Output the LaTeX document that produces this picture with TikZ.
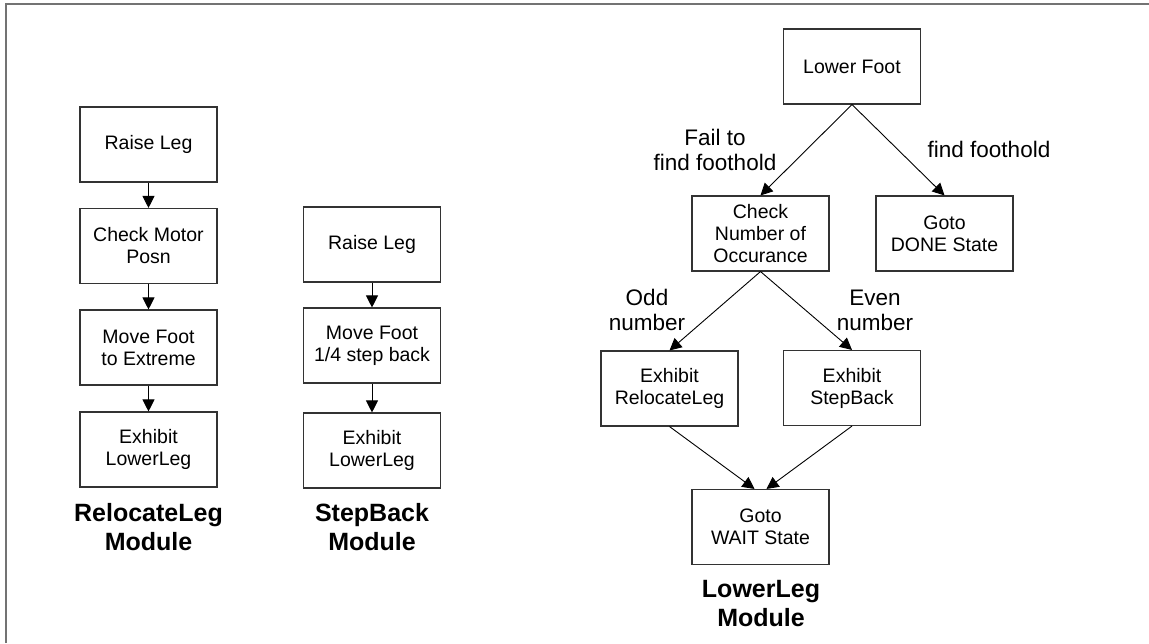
\documentclass[tikz,border=0pt]{standalone}
\usepackage{fontspec}
\setmainfont{Liberation Sans}
\usetikzlibrary{arrows.meta,calc}

\tikzset{
  stepbox/.style={draw=black!80, line width=1.1pt, rectangle, minimum width=137pt,
    minimum height=75pt, align=center, inner sep=2pt,
    font=\fontsize{19.5}{22}\selectfont},
  flow/.style={line width=0.9pt, -{Triangle[width=12pt,length=12pt]}},
  cond/.style={align=center, font=\fontsize{22.5}{25}\selectfont},
  title/.style={align=center, font=\fontsize{25}{29}\selectfont\bfseries},
  frame/.style={draw=black!55, line width=2pt}
}

\begin{document}
\begin{tikzpicture}[x=1pt, y=-1pt]
  \useasboundingbox (0,0) rectangle (1149,643);
  \fill[white] (0,0) rectangle (1149,643);

  % outer frame (left and top edges)
  \coordinate (fa) at (6,643);
  \coordinate (fb) at (6,4);
  \coordinate (fc) at (1149,4);
  \draw[frame] (fa) -- (fb) -- (fc);

  % RelocateLeg module
  \node[stepbox] (r1) at (148.5,144.5) {Raise Leg};
  \node[stepbox] (r2) at (148.5,246) {Check Motor\\Posn};
  \node[stepbox] (r3) at (148.5,347.5) {Move Foot\\to Extreme};
  \node[stepbox] (r4) at (148.5,449.5) {Exhibit\\LowerLeg};
  \node[title] (rt) at (148.5,527.5) {RelocateLeg\\Module};
  \draw[flow] (r1) -- (r2);
  \draw[flow] (r2) -- (r3);
  \draw[flow] (r3) -- (r4);

  % StepBack module
  \node[stepbox] (s1) at (372,244.5) {Raise Leg};
  \node[stepbox] (s2) at (372,345.5) {Move Foot\\1/4 step back};
  \node[stepbox] (s3) at (372,450.5) {Exhibit\\LowerLeg};
  \node[title] (st) at (372,527.5) {StepBack\\Module};
  \draw[flow] (s1) -- (s2);
  \draw[flow] (s2) -- (s3);

  % LowerLeg module
  \node[stepbox] (lf) at (852,66.5) {Lower Foot};
  \node[stepbox] (cn) at (760.5,233.5) {Check\\Number of\\Occurance};
  \node[stepbox] (dn) at (944.5,233.5) {Goto\\DONE State};
  \node[stepbox] (er) at (669.5,388.5) {Exhibit\\RelocateLeg};
  \node[stepbox] (es) at (852,388) {Exhibit\\StepBack};
  \node[stepbox] (wt) at (760.5,527) {Goto\\WAIT State};
  \node[title] (lt) at (761,604) {LowerLeg\\Module};

  \draw[flow] (lf.south) -- (cn.north);
  \draw[flow] (lf.south) -- (dn.north);
  \draw[flow] (cn.south) -- (er.north);
  \draw[flow] (cn.south) -- (es.north);
  \draw[flow] (er.south) -- ($(wt.north)+(-6,0)$);
  \draw[flow] (es.south) -- ($(wt.north)+(6,0)$);

  % branch conditions
  \node[cond] (c1) at (715,149.5) {Fail to\\find foothold};
  \node[cond] (c2) at (989,149) {find foothold};
  \node[cond] (c3) at (647,310) {Odd\\number};
  \node[cond] (c4) at (875,310) {Even\\number};
\end{tikzpicture}
\end{document}
